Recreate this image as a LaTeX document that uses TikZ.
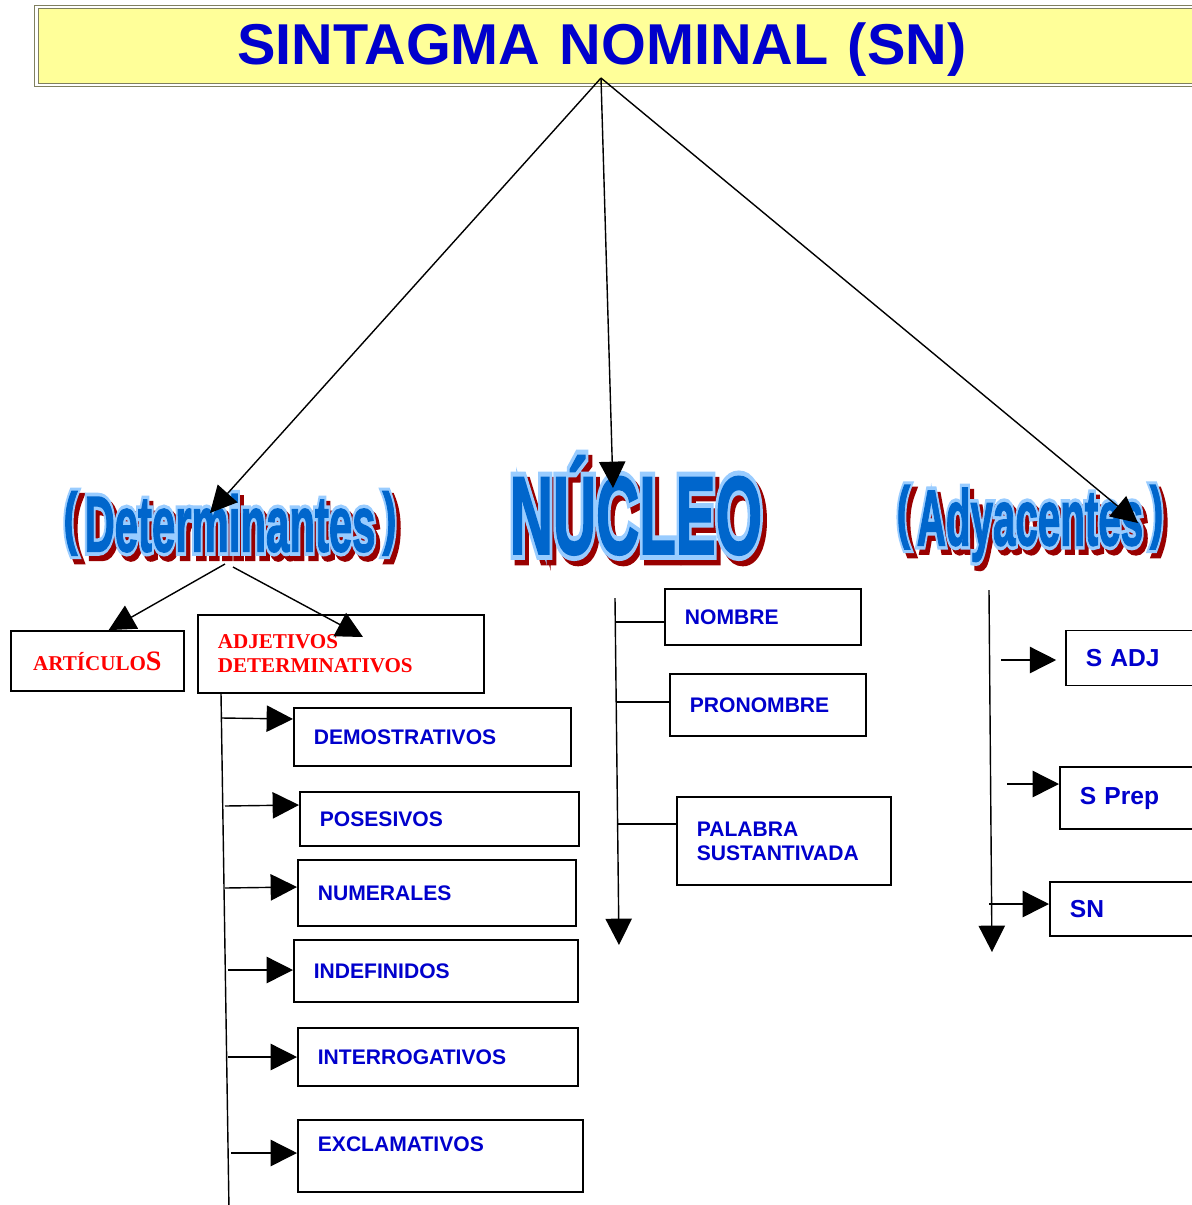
\documentclass[tikz,border=0pt]{standalone}
\usepackage{fontspec}
\usepackage{graphicx}
\setmainfont{Liberation Sans}
\newfontfamily\tiempos{Liberation Serif}
\newfontfamily\artborde{Liberation Sans Bold}[FakeBold=11]
\newfontfamily\artrelleno{Liberation Sans Bold}[FakeBold=2]
\usetikzlibrary{arrows.meta}

\definecolor{azul}{HTML}{0000CC}
\definecolor{rojo}{HTML}{FF0000}
\definecolor{amarillo}{HTML}{FFFF99}
\definecolor{marco}{HTML}{7F7F5F}
\definecolor{relleno}{HTML}{0066CC}
\definecolor{contorno}{HTML}{99CCFF}
\definecolor{sombra}{HTML}{990000}

% letras con sombra y contorno (#1 = escala horizontal, #2 = texto)
\newcommand{\wordart}[2]{%
  \leavevmode
  \rlap{\hspace*{2.3pt}\raisebox{-3pt}{\scalebox{#1}[1]{\color{sombra}\artborde#2}}}%
  \rlap{\scalebox{#1}[1]{\color{contorno}\artborde#2}}%
  \scalebox{#1}[1]{\color{relleno}\artrelleno#2}}
\newcommand{\parizq}{\raisebox{0.13em}{\scalebox{1}[0.87]{(}}}
\newcommand{\parder}{\raisebox{0.13em}{\scalebox{1}[0.87]{)}}}

\begin{document}
\begin{tikzpicture}[x=0.02cm, y=-0.02cm,
    caja/.style={draw, line width=1pt, anchor=west, align=left, inner xsep=0.4cm, inner ysep=0pt,
      font=\bfseries\fontsize{12}{13.6}\selectfont, text=azul},
    cajagrande/.style={caja, font=\bfseries\fontsize{14}{16}\selectfont},
    cajaroja/.style={caja, font=\tiempos\bfseries\fontsize{12}{13.6}\selectfont, text=rojo},
    flecha/.style={line width=0.8pt, -{Triangle[length=15pt,width=15pt]}},
    linea/.style={line width=0.8pt}]
    \useasboundingbox (0,0) rectangle (1192,1205);
    \fill[white] (0,0) rectangle (1192,1205);
    \clip (0,0) rectangle (1192,1205);

    % Title
    \node[draw=marco, double=white, double distance=1.2pt, line width=0.6pt, fill=amarillo,
      anchor=west, align=left, inner xsep=4.02cm, text width=15.5cm, minimum height=1.56cm,
      text height=23.7pt, text depth=2.7pt,
      font=\bfseries\fontsize{32.8}{36}\selectfont, text=azul] (titulo) at (36,46) {SINTAGMA NOMINAL (SN)};

    % The three parts
    \node[inner sep=0pt] (det) at (230,526)
      {\fontsize{45}{45}\selectfont\wordart{0.53}{\parizq\,Determinantes\,\parder}};
    \node[inner sep=0pt] (nucleo) at (636,508)
      {\fontsize{63}{63}\selectfont\wordart{0.54}{NÚCLEO}};
    \node[inner sep=0pt] (ady) at (1030,526)
      {\fontsize{45}{45}\selectfont\wordart{0.51}{\parizq\,Adyacentes\,\parder}};

    \coordinate (raiz) at (601,78);
    \coordinate (pdet) at (210,513);
    \coordinate (pnuc) at (613,488);
    \coordinate (pady) at (1138,523);
    \draw[flecha] (raiz) -- (pdet);
    \draw[flecha] (raiz) -- (pnuc);
    \draw[flecha] (raiz) -- (pady);

    % Determinantes
    \node[cajaroja, align=center, text width=2.66cm, minimum height=1.2cm] (articulos) at (10,661)
      {ARTÍCULO{\fontsize{16}{16}\selectfont S}};
    \node[cajaroja, text width=4.92cm, minimum height=1.56cm] (adjetivos) at (197,654)
      {ADJETIVOS\\DETERMINATIVOS};
    \coordinate (bdet1) at (225,564);
    \coordinate (bdet2) at (233,567);
    \coordinate (padj) at (363,637);
    \draw[flecha] (bdet1) -- (articulos.70);
    \draw[flecha] (bdet2) -- (padj);

    \node[caja, text width=4.74cm, minimum height=1.16cm] (demo) at (293,737) {DEMOSTRATIVOS};
    \node[caja, text width=4.78cm, minimum height=1.08cm] (pose) at (299,819) {POSESIVOS};
    \node[caja, text width=4.76cm, minimum height=1.32cm] (nume) at (297,893) {NUMERALES};
    \node[caja, text width=4.88cm, minimum height=1.24cm] (inde) at (293,971) {INDEFINIDOS};
    \node[caja, text width=4.80cm, minimum height=1.16cm] (inte) at (297,1057) {INTERROGATIVOS};
    \node[caja, text width=4.90cm, minimum height=1.44cm] (excl) at (297,1156) {EXCLAMATIVOS\\~};

    \coordinate (vd0) at (221,693);
    \coordinate (vd1) at (229,1210);
    \draw[linea] (vd0) -- (vd1);
    \foreach \n/\xa/\ya/\yb in {demo/222/718/719, pose/225/806/805, nume/225/888/887,
        inde/228/970/970, inte/228/1057/1057, excl/231/1153/1153}
      \draw[flecha] (\xa,\ya) -- (\n.west |- 0,\yb);

    % Nucleo
    \node[caja, text width=3.12cm, minimum height=1.12cm] (nombre) at (664,617) {NOMBRE};
    \node[caja, text width=3.12cm, minimum height=1.24cm] (pronombre) at (669,705) {PRONOMBRE};
    \node[caja, text width=3.48cm, minimum height=1.76cm] (palabra) at (676,841) {PALABRA\\SUSTANTIVADA};

    \coordinate (vn0) at (615,598);
    \coordinate (vn1) at (619,945);
    \draw[flecha] (vn0) -- (vn1);
    \foreach \n/\xa/\y in {nombre/616/622, pronombre/617/702, palabra/618/824}
      \draw[linea] (\xa,\y) -- (\n.west |- 0,\y);

    % Adyacentes
    \node[cajagrande, text width=2.30cm, minimum height=1.10cm] (sadj) at (1065,658) {S ADJ};
    \node[cajagrande, text width=2.42cm, minimum height=1.24cm] (sprep) at (1059,798) {S Prep};
    \node[cajagrande, text width=2.62cm, minimum height=1.08cm] (sn) at (1049,909) {SN};

    \coordinate (va0) at (989,590);
    \coordinate (va1) at (992,952);
    \draw[flecha] (va0) -- (va1);
    \draw[flecha, shorten >=5pt] (1001,660) -- (sadj.west |- 0,660);
    \draw[flecha] (1007,784) -- (sprep.west |- 0,784);
    \draw[flecha] (989,904) -- (sn.west |- 0,904);
\end{tikzpicture}
\end{document}
